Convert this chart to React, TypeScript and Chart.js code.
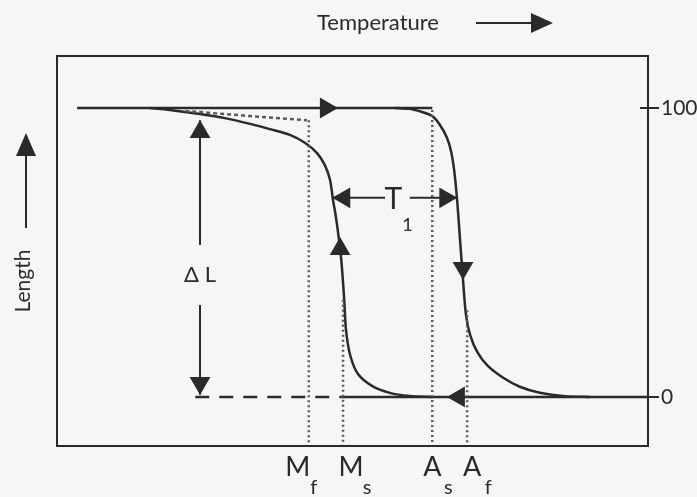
import React, { useEffect, useRef } from "react";
import { Chart, registerables } from "chart.js";
Chart.register(...registerables);

// ---- data (temperature in arbitrary units 0..100 across the frame, length in % 0..100) ----
const xMin = 0;
const xMax = 100;
const yMin = -17;
const yMax = 118;
const yTickValues = [0, 100];

const topLineX = [3.4, 63.5];
const topLineY = [100, 100];

// cooling branch (austenite -> martensite), traced from As back toward the top-left
const coolingX = [63.5, 59.7, 56.3, 53.3, 50.9, 49.6, 48.9, 48.6, 48.1, 47.5, 47.1, 46.7, 46.2, 45.3, 44.0, 42.0, 39.4, 36.0, 32.7, 28.4, 24.2, 19.1, 15.7];
const coolingY = [0, 0.3, 1.4, 3.8, 8.0, 14.5, 23.2, 33.6, 47.4, 57.8, 63.5, 68.2, 75.1, 80.3, 84.4, 87.9, 90.7, 92.7, 94.5, 96.5, 97.9, 99.3, 100];

// heating branch (martensite -> austenite)
const heatingX = [57.2, 59.7, 61.8, 63.5, 64.8, 66.0, 66.7, 67.2, 67.7, 68.2, 68.7, 69.2, 69.9, 71.1, 72.9, 75.5, 78.3, 81.7, 86.0, 90.2];
const heatingY = [100, 99.7, 98.6, 97.2, 94.1, 89.6, 84.8, 78.5, 68.2, 54.3, 40.5, 28.4, 21.5, 15.6, 10.7, 6.6, 3.5, 1.4, 0.2, 0];

const bottomSolidX = [47.9, 100];
const bottomSolidY = [0, 0];
const bottomDashedX = [23.4, 47.9];
const bottomDashedY = [0, 0];

const mfCapX = [21.7, 32.7, 42.3];
const mfCapY = [99.0, 97.2, 95.8];

const transitionNames = ["M", "M", "A", "A"];
const transitionSubs = ["f", "s", "s", "f"];
const transitionX = [42.6, 48.4, 63.5, 69.4];
const transitionTopY = [95.8, 33.6, 99.3, 30.0];

const t1Y = 68.9;
const t1LeftX = [46.9, 55.5];
const t1RightX = [59.7, 67.7];

const deltaLX = 24.2;
const deltaLUpY = [52.6, 95.8];
const deltaLDownY = [31.8, 0.7];
const deltaLTextY = 42.2;

const arrowX = [45.5, 68.7, 68.0, 47.9, 48.6, 65.7, 24.2, 24.2];
const arrowY = [100, 44.6, 0, 51.2, t1Y, t1Y, 91.7, 4.8];
const arrowRot = [90, 180, 270, 0, 270, 90, 0, 180];

// ---- styling ----
const INK = "#2a2a2a";
const DOT = "#5a5a5a";
const FONT = "Lato, 'DejaVu Sans', sans-serif";
const labelOffsets = [-11, 8, 0, 5];

const pts = (xs: number[], ys: number[]) => xs.map((x, i) => ({ x, y: ys[i] }));

const annotations = {
  id: "annotations",
  afterDraw(chart: any) {
    const { ctx, chartArea: a, scales } = chart;
    const sx = scales.x;
    const sy = scales.y;
    ctx.save();
    // frame
    ctx.strokeStyle = INK;
    ctx.lineWidth = 2;
    ctx.strokeRect(a.left, a.top, a.right - a.left, a.bottom - a.top);
    // inner part of the 100 tick
    const p100 = sy.getPixelForValue(100);
    ctx.beginPath();
    ctx.moveTo(a.right - 8, p100);
    ctx.lineTo(a.right, p100);
    ctx.stroke();

    ctx.fillStyle = INK;
    ctx.textAlign = "center";
    ctx.textBaseline = "middle";

    // Temperature title + arrow
    ctx.font = `400 22px ${FONT}`;
    ctx.fillText("Temperature", 378, 23);
    ctx.beginPath();
    ctx.moveTo(476, 23);
    ctx.lineTo(536, 23);
    ctx.stroke();
    ctx.beginPath();
    ctx.moveTo(553, 23);
    ctx.lineTo(531, 13);
    ctx.lineTo(531, 33);
    ctx.closePath();
    ctx.fill();

    // Length title + arrow
    ctx.save();
    ctx.font = `400 21px ${FONT}`;
    ctx.translate(23, 281);
    ctx.rotate(-Math.PI / 2);
    ctx.fillText("Length", 0, 0);
    ctx.restore();
    ctx.beginPath();
    ctx.moveTo(26, 228);
    ctx.lineTo(26, 152);
    ctx.stroke();
    ctx.beginPath();
    ctx.moveTo(26, 133);
    ctx.lineTo(16, 156);
    ctx.lineTo(36, 156);
    ctx.closePath();
    ctx.fill();

    // transition temperature labels
    transitionX.forEach((v, i) => {
      const px = sx.getPixelForValue(v) + labelOffsets[i];
      ctx.font = `400 27px ${FONT}`;
      ctx.fillText(transitionNames[i], px, 467);
      ctx.font = `400 20px ${FONT}`;
      ctx.fillText(transitionSubs[i], px + 16, 488);
    });

    // T1 label
    const ty = sy.getPixelForValue(t1Y);
    const tx = (sx.getPixelForValue(t1LeftX[1]) + sx.getPixelForValue(t1RightX[0])) / 2;
    ctx.font = `400 30px ${FONT}`;
    ctx.fillText("T", tx - 4, ty + 1);
    ctx.font = `400 18px ${FONT}`;
    ctx.fillText("1", tx + 10, ty + 27);

    // delta L label
    ctx.font = `400 22px ${FONT}`;
    ctx.fillText("\u0394 L", sx.getPixelForValue(deltaLX), sy.getPixelForValue(deltaLTextY));
    ctx.restore();
  },
};

export default function App() {
  const ref = useRef<HTMLCanvasElement | null>(null);
  useEffect(() => {
    if (!ref.current) return;
    const solid = { showLine: true, pointRadius: 0, borderColor: INK, borderWidth: 2.5, fill: false };
    const dotted = { showLine: true, pointRadius: 0, borderColor: DOT, borderWidth: 2.5, borderDash: [2, 3], fill: false };
    const verticals = transitionX.map((v, i) => ({
      ...dotted,
      data: [
        { x: v, y: transitionTopY[i] },
        { x: v, y: yMin },
      ],
    }));
    const chart = new Chart(ref.current, {
      type: "scatter",
      data: {
        datasets: [
          ...verticals,
          { ...dotted, data: pts(mfCapX, mfCapY), borderDash: [4, 3] },
          { ...solid, data: pts(topLineX, topLineY) },
          { ...solid, data: pts(coolingX, coolingY), tension: 0.3 },
          { ...solid, data: pts(heatingX, heatingY), tension: 0.3 },
          { ...solid, data: pts(bottomSolidX, bottomSolidY) },
          { ...solid, data: pts(bottomDashedX, bottomDashedY), borderDash: [14, 10] },
          { ...solid, borderWidth: 2, data: pts(t1LeftX, [t1Y, t1Y]) },
          { ...solid, borderWidth: 2, data: pts(t1RightX, [t1Y, t1Y]) },
          { ...solid, borderWidth: 2, data: pts([deltaLX, deltaLX], deltaLUpY) },
          { ...solid, borderWidth: 2, data: pts([deltaLX, deltaLX], deltaLDownY) },
          {
            showLine: false,
            data: pts(arrowX, arrowY),
            pointStyle: "triangle",
            pointRadius: 12,
            pointRotation: arrowRot,
            pointBackgroundColor: INK,
            pointBorderWidth: 0,
          } as any,
        ] as any,
      },
      options: {
        responsive: false,
        animation: false,
        devicePixelRatio: 1,
        layout: { padding: { left: 57, top: 56, bottom: 51, right: 0 } },
        plugins: { legend: { display: false }, tooltip: { enabled: false } },
        events: [],
        scales: {
          x: { type: "linear", min: xMin, max: xMax, display: false },
          y: {
            type: "linear",
            position: "right",
            min: yMin,
            max: yMax,
            afterBuildTicks: (s: any) => {
              s.ticks = yTickValues.map((v) => ({ value: v }));
            },
            afterFit: (s: any) => {
              s.width = 49;
            },
            border: { display: false },
            grid: { drawOnChartArea: false, drawTicks: true, tickLength: 11, color: INK, lineWidth: 2 },
            ticks: {
              padding: 2,
              color: INK,
              font: { family: FONT, size: 21, weight: "400" as any },
              callback: (v: any) => String(v),
            },
          },
        },
      } as any,
      plugins: [annotations],
    });
    return () => chart.destroy();
  }, []);
  return (
    <div style={{ position: "fixed", left: 0, top: 0, width: 697, height: 497, background: "#f6f6f6" }}>
      <canvas ref={ref} width={697} height={497} style={{ display: "block" }} />
    </div>
  );
}
